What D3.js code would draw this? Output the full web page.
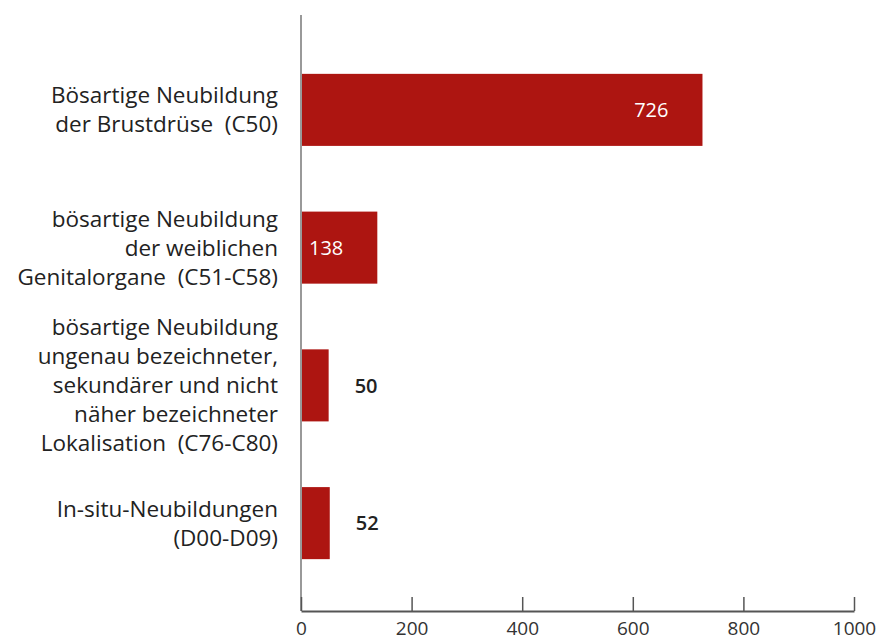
<!DOCTYPE html>
<html>
<head>
<meta charset="utf-8">
<script src="https://cdn.jsdelivr.net/npm/d3@7"></script>
<style>
  body { margin: 0; background: #fff; }
  text { font-family: "Open Sans", "Noto Sans", sans-serif; white-space: pre; }
</style>
</head>
<body>
<svg id="chart"></svg>
<script>
// categories, one array of lines per bar
var categories = [
  ["Bösartige Neubildung", "der Brustdrüse  (C50)"],
  ["bösartige Neubildung", "der weiblichen", "Genitalorgane  (C51-C58)"],
  ["bösartige Neubildung", "ungenau bezeichneter,", "sekundärer und nicht", "näher bezeichneter", "Lokalisation  (C76-C80)"],
  ["In-situ-Neubildungen", "(D00-D09)"]
];
var values = [726, 138, 50, 52];
var xTicks = [0, 200, 400, 600, 800, 1000];

var width = 881, height = 641;
var svg = d3.select("#chart").attr("width", width).attr("height", height);

var x = d3.scaleLinear().domain([0, 1000]).range([301, 854]);
var y = d3.scaleBand()
    .domain(d3.range(categories.length))
    .range([41, 592])
    .paddingInner(0.477)
    .paddingOuter(0.2385);

var barColor = "#ad1511";
var insideMin = 100;

// bars
svg.append("g").selectAll("rect")
  .data(values)
  .enter().append("rect")
    .attr("x", x(0))
    .attr("y", function(d, i) { return y(i); })
    .attr("width", function(d) { return x(d) - x(0); })
    .attr("height", y.bandwidth())
    .attr("fill", barColor);

// value labels
svg.append("g").selectAll("text")
  .data(values)
  .enter().append("text")
    .attr("x", function(d) { return d > insideMin ? x(d) - 34 : x(d) + 26; })
    .attr("y", function(d, i) { return y(i) + y.bandwidth() / 2; })
    .attr("dy", "0.36em")
    .attr("text-anchor", function(d) { return d > insideMin ? "end" : "start"; })
    .attr("font-size", 20)
    .attr("font-weight", function(d) { return d > insideMin ? 400 : 600; })
    .attr("fill", function(d) { return d > insideMin ? "#fff" : "#222"; })
    .text(function(d) { return d; });

// category labels
var lineH = 29;
var labels = svg.append("g").selectAll("text")
  .data(categories)
  .enter().append("text")
    .attr("text-anchor", "end")
    .attr("font-size", 22.5)
    .attr("fill", "#222")
    .attr("y", function(d, i) { return y(i) + y.bandwidth() / 2 - (d.length - 1) * lineH / 2; });

labels.selectAll("tspan")
  .data(function(d) { return d; })
  .enter().append("tspan")
    .attr("x", 278)
    .attr("dy", function(d, j) { return j === 0 ? "0.36em" : lineH; })
    .text(function(d) { return d; });

// vertical axis line
svg.append("line")
  .attr("x1", x(0)).attr("x2", x(0))
  .attr("y1", 15).attr("y2", 611)
  .attr("stroke", "#999")
  .attr("stroke-width", 2);

// bottom axis
var xAxis = d3.axisBottom(x)
  .tickValues(xTicks)
  .tickFormat(d3.format("d"))
  .tickSize(-14)
  .tickPadding(11)
  .tickSizeOuter(0);
var gx = svg.append("g")
  .attr("transform", "translate(0,611)")
  .call(xAxis);
gx.select(".domain").attr("stroke", "#555").attr("stroke-width", 2);
gx.selectAll(".tick line").attr("stroke", "#555").attr("stroke-width", 1.5);
gx.selectAll(".tick text")
  .attr("font-family", "'Open Sans', 'Noto Sans', sans-serif")
  .attr("font-size", 19)
  .attr("fill", "#333");
</script>
</body>
</html>
